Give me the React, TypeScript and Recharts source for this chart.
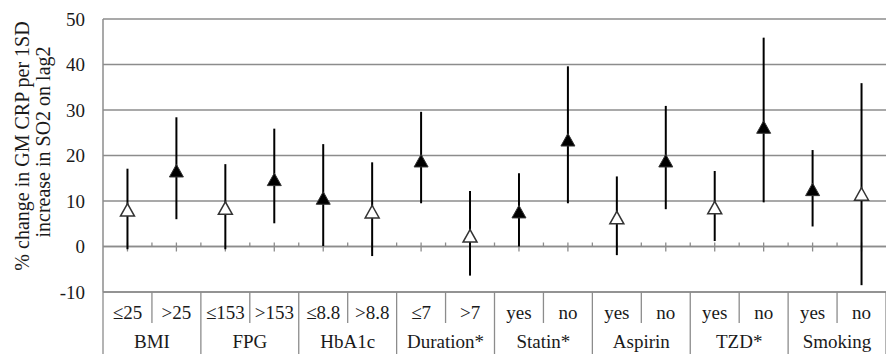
import React from 'react';
import { ComposedChart, Line, Bar, XAxis, YAxis, CartesianGrid, ErrorBar, ReferenceLine } from 'recharts';

const subLabels = ['≤25', '>25', '≤153', '>153', '≤8.8', '>8.8', '≤7', '>7', 'yes', 'no', 'yes', 'no', 'yes', 'no', 'yes', 'no'];
const groupLabels = ['BMI', 'FPG', 'HbA1c', 'Duration*', 'Statin*', 'Aspirin', 'TZD*', 'Smoking'];
const estimates = [8.0, 16.6, 8.4, 14.7, 10.6, 7.6, 18.8, 2.3, 7.6, 23.4, 6.3, 18.8, 8.5, 26.2, 12.5, 11.5];
const lowerCI = [-0.6, 6.0, -0.6, 5.1, 0.1, -2.1, 9.5, -6.4, 0.0, 9.5, -1.9, 8.2, 1.2, 9.7, 4.4, -8.5];
const upperCI = [17.1, 28.4, 18.1, 25.9, 22.5, 18.5, 29.6, 12.2, 16.1, 39.6, 15.4, 30.9, 16.6, 45.9, 21.2, 35.9];
const significant = [false, true, false, true, true, false, true, false, true, true, false, true, false, true, true, false];
const yTicks = [-10, 0, 10, 20, 30, 40, 50];

const data = subLabels.map((s, i) => ({
  sub: s,
  idx: i,
  est: estimates[i],
  none: null,
  err: [estimates[i] - lowerCI[i], upperCI[i] - estimates[i]],
  sig: significant[i],
}));

const FONT = '"Liberation Serif", "Times New Roman", serif';
const TEXT = '#1a1a1a';
const GRID = '#8c8c8c';

const Triangle = (props: any) => {
  const { cx, cy, payload, index } = props;
  if (cx == null || cy == null) return <g key={`t-${index}`} />;
  const w = 7;
  const pts = `${cx},${cy - 6.5} ${cx - w},${cy + 6} ${cx + w},${cy + 6}`;
  return payload.sig ? (
    <polygon key={`t-${index}`} points={pts} fill="#000" stroke="#333" strokeWidth={1} />
  ) : (
    <polygon key={`t-${index}`} points={pts} fill="#fff" stroke="#333" strokeWidth={1.5} />
  );
};

const CategoryTick = (props: any) => {
  const { x, y, payload, index } = props;
  const n = subLabels.length;
  const half = payload && payload.offset ? payload.offset : (props.width || 783) / n / 2;
  const i = payload && payload.index != null ? payload.index : index;
  const isGroupEnd = i % 2 === 1;
  return (
    <g>
      <text x={x} y={y + 27} textAnchor="middle" style={{ fontFamily: FONT, fontSize: 19 }} fill={TEXT}>
        {payload.value}
      </text>
      <line x1={x + half} y1={y} x2={x + half} y2={isGroupEnd ? y + 70 : y + 31} stroke={GRID} strokeWidth={1.3} />
      {i === 0 && <line x1={x - half} y1={y} x2={x - half} y2={y + 70} stroke={GRID} strokeWidth={1.3} />}
      {!isGroupEnd && (
        <text x={x + half} y={y + 56} textAnchor="middle" style={{ fontFamily: FONT, fontSize: 19 }} fill={TEXT}>
          {groupLabels[Math.floor(i / 2)]}
        </text>
      )}
    </g>
  );
};

const ZeroLine = (props: any) => {
  const { x1, y1, x2 } = props;
  const n = subLabels.length;
  const step = (x2 - x1) / n / 2;
  const ticks = [];
  for (let k = 1; k < n * 2; k++) {
    const tx = x1 + k * step;
    const center = k % 2 === 1;
    ticks.push(
      <line key={k} x1={tx} x2={tx} y1={y1 - 4} y2={center ? y1 + 5 : y1} stroke={GRID} strokeWidth={1.3} />
    );
  }
  return (
    <g>
      <line x1={x1} x2={x2} y1={y1} y2={y1} stroke={GRID} strokeWidth={1.3} />
      {ticks}
    </g>
  );
};

const YLabel = () => (
  <g style={{ fontFamily: FONT, fontSize: 20 }}>
    <text
      x={22}
      y={146}
      transform="rotate(-90, 22, 146)"
      textAnchor="middle"
      dominantBaseline="central"
      fill={TEXT}
    >
      % change in GM CRP per 1SD
    </text>
    <text
      x={42.5}
      y={142}
      transform="rotate(-90, 42.5, 142)"
      textAnchor="middle"
      dominantBaseline="central"
      fill={TEXT}
    >
      increase in SO2 on lag2
    </text>
  </g>
);

export default function App() {
  return (
    <div style={{ position: 'absolute', left: 0, top: 0, background: '#fff' }}>
      <ComposedChart width={886} height={354} data={data} margin={{ top: 19, right: 0, bottom: 0, left: 0 }}>
        <CartesianGrid horizontal vertical={false} stroke={GRID} strokeWidth={1.3} />
        <XAxis
          dataKey="sub"
          type="category"
          interval={0}
          height={62}
          tickLine={false}
          tickSize={0}
          tickMargin={0}
          axisLine={{ stroke: GRID, strokeWidth: 1.3 }}
          tick={<CategoryTick />}
        />
        <YAxis
          type="number"
          domain={[-10, 50]}
          ticks={yTicks}
          width={103}
          tickLine={false}
          tickMargin={12}
          axisLine={{ stroke: GRID, strokeWidth: 1.5 }}
          tick={{ fontFamily: FONT, fontSize: 19, fill: TEXT }}
          label={{ content: () => <YLabel /> }}
        />
        <ReferenceLine y={0} shape={(p: any) => <ZeroLine {...p} />} />
        <Bar dataKey="none" fill="none" isAnimationActive={false} legendType="none" />
        <Line
          dataKey="est"
          stroke="none"
          isAnimationActive={false}
          activeDot={false}
          dot={(p: any) => <Triangle {...p} />}
        >
          <ErrorBar dataKey="err" width={0} stroke="#000" strokeWidth={2} direction="y" isAnimationActive={false} />
        </Line>
      </ComposedChart>
    </div>
  );
}
